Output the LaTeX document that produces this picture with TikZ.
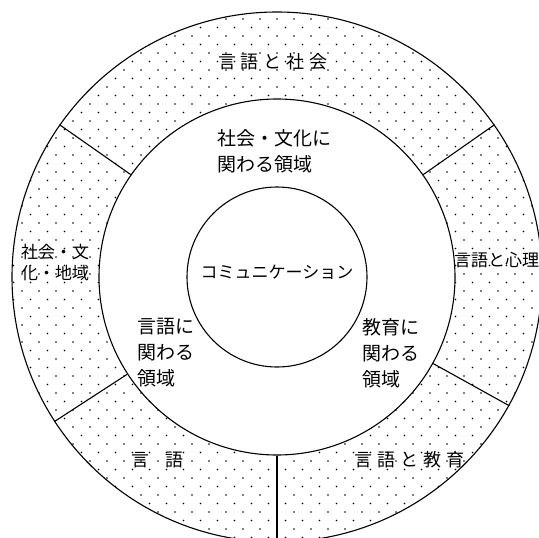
\documentclass[tikz,border=0pt]{standalone}
\usepackage{fontspec}
\setmainfont{Noto Sans CJK JP}
\begin{document}
\begin{tikzpicture}[x=1pt,y=-1pt,
  ring/.style={draw=black, line width=1.1pt, circle, inner sep=0pt},
  divider/.style={draw=black, line width=1.1pt},
  ringlabel/.style={font=\fontsize{18}{22}\selectfont, inner sep=0pt},
  domlabel/.style={font=\fontsize{19}{26}\selectfont, align=left, inner sep=0pt, anchor=west},
  smalllabel/.style={font=\fontsize{17}{21}\selectfont, align=left, inner sep=0pt, anchor=west}]
\useasboundingbox (0,0) rectangle (539,538);
\coordinate (C) at (277,277);
% dotted ring
\begin{scope}[even odd rule]
\clip (C) circle[radius=265] (C) circle[radius=178];
\foreach \k in {0,...,63}{
  \pgfmathsetmacro\yy{2+8.5*\k}
  \pgfmathsetmacro\xo{mod(\k,2)==0 ? 5 : 13.5}
  \foreach \j in {0,...,32}{\fill[black] (\xo+17*\j,\yy) circle[radius=0.85];}
}
\end{scope}
% circles
\node[ring, minimum size=530pt] (outer) at (C) {};
\node[ring, minimum size=356pt] (mid) at (C) {};
\node[ring, minimum size=180pt] (inner) at (C) {};
% dividers
\draw[divider] (mid.145) -- (outer.145);
\draw[divider] (mid.35) -- (outer.35);
\draw[divider] (mid.-29.9) -- (outer.-29.9);
\draw[divider] (mid.-90) -- (outer.-90);
\draw[divider] (mid.-147.8) -- (outer.-147.8);
% ring labels
\node[ringlabel] (soc) at (273,62) {言\hspace{5pt}語\hspace{5pt}と\hspace{5pt}社\hspace{5pt}会};
\node[smalllabel] (cult) at (21,262.5) {社会・文\\化・地域};
\node[smalllabel] (psy) at (454,260) {言語と心理};
\node[ringlabel, anchor=west] (lang) at (131,460) {言\hspace{16pt}語};
\node[ringlabel, anchor=west] (edu) at (354,460) {言\hspace{5pt}語\hspace{5pt}と\hspace{5pt}教\hspace{5pt}育};
% domain labels
\node[domlabel] (dsoc) at (217,151.5) {社会・文化に\\関わる領域};
\node[domlabel] (dlang) at (137,353) {言語に\\関わる\\領域};
\node[domlabel] (dedu) at (362,353) {教育に\\関わる\\領域};
% centre
\node[font=\fontsize{17}{21}\selectfont, inner sep=0pt] (comm) at (277,272) {コミュニケーション};
\end{tikzpicture}
\end{document}
